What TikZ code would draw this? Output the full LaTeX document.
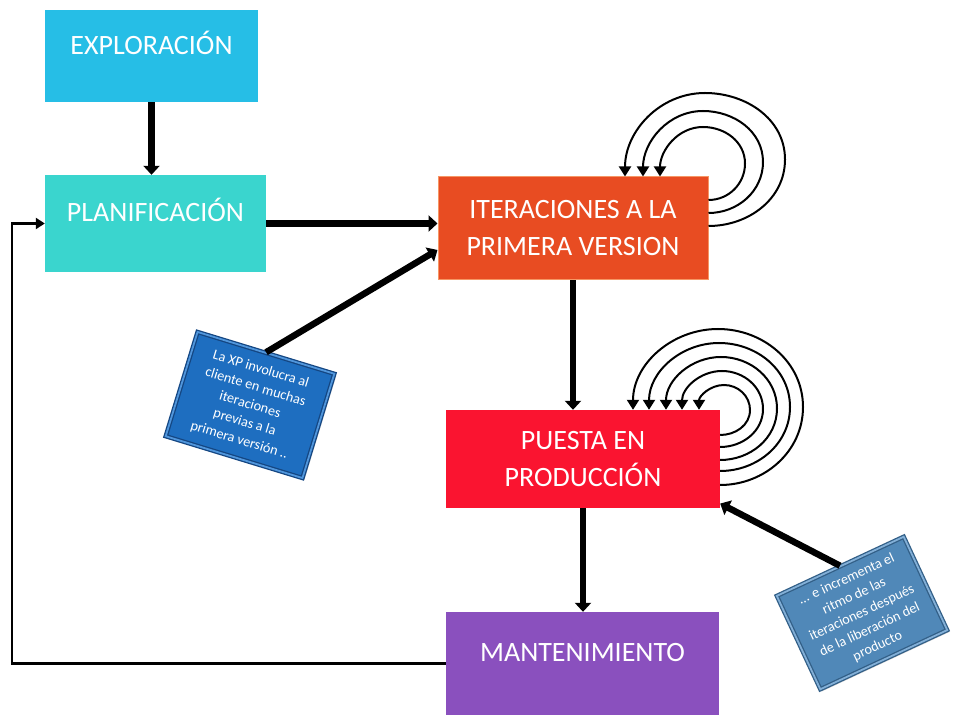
\documentclass[tikz,border=0pt]{standalone}
\usepackage{fontspec}
\setmainfont{Carlito}
\usetikzlibrary{positioning,arrows.meta,shadows,calc}
\definecolor{explcol}{RGB}{38,190,230}
\definecolor{plancol}{RGB}{58,213,206}
\definecolor{itercol}{RGB}{232,76,34}
\definecolor{iterline}{RGB}{246,150,100}
\definecolor{puestacol}{RGB}{250,20,48}
\definecolor{mantcol}{RGB}{138,80,190}
\definecolor{noteacol}{RGB}{30,110,192}
\definecolor{noteadark}{RGB}{20,70,130}
\definecolor{notealight}{RGB}{80,150,220}
\definecolor{notebcol}{RGB}{80,136,184}
\definecolor{notebdark}{RGB}{50,95,135}
\definecolor{noteblight}{RGB}{130,175,215}
\tikzstyle{phasebox} = [rectangle, text=white, font=\fontsize{28}{37}\selectfont, align=center, inner sep=0pt]
\tikzstyle{oneline} = [text height=19pt, text depth=22pt]
\tikzstyle{notebox} = [rectangle, text=white, align=center, font=\fontsize{14.2}{18.5}\selectfont, inner sep=1pt, line width=1.3pt, double distance=1.8pt, drop shadow={shadow xshift=2pt, shadow yshift=-2pt, opacity=0.35}]
\tikzstyle{arrow} = [line width=6.5pt, -{Triangle[length=9pt,width=16pt]}]
\tikzstyle{thinarrow} = [line width=2.4pt, -{Triangle[length=9pt,width=11pt]}]
\tikzstyle{looparrow} = [line width=2pt, -{Triangle[length=10pt,width=12pt]}]
\begin{document}
\begin{tikzpicture}[x=1pt,y=1pt]
			\useasboundingbox (0,0) rectangle (953,715);
			\node (expl) [phasebox, oneline, fill=explcol, minimum width=213pt, minimum height=92pt] at (151.5,659) {EXPLORACIÓN};
			\node (plan) [phasebox, oneline, fill=plancol, minimum width=221pt, minimum height=97pt] at (155.5,491.5) {PLANIFICACIÓN};
			\node (iter) [phasebox, fill=itercol, draw=iterline, line width=1pt, minimum width=270pt, minimum height=103pt] at (573,486.5) {ITERACIONES A LA\\PRIMERA VERSION};
			\node (puesta) [phasebox, fill=puestacol, minimum width=274pt, minimum height=98pt] at (583,256) {PUESTA EN\\PRODUCCIÓN};
			\node (mant) [phasebox, oneline, fill=mantcol, minimum width=273pt, minimum height=103pt] at (582.5,51.5) {MANTENIMIENTO};
			\node (note1) [notebox, fill=noteacol, draw=noteadark, double=notealight, rotate=-17, minimum width=143pt, minimum height=109pt] at (250,310) {La XP involucra al\\cliente en muchas\\iteraciones\\previas a la\\primera versión ..};
			\node (note2) [notebox, fill=notebcol, draw=notebdark, double=noteblight, rotate=25, minimum width=140pt, minimum height=103pt] at (862,102) {... e incrementa el\\ritmo de las\\iteraciones después\\de la liberación del\\producto};
			\coordinate (leftrail) at (12,0);
			\draw [arrow] (expl.south) -- (expl.south |- plan.north);
			\draw [arrow] (plan.east) -- (plan.east -| iter.west);
			\draw [arrow] (iter.south) -- (iter.south |- puesta.north);
			\draw [arrow] (puesta.south) -- (puesta.south |- mant.north);
			\draw [arrow] (note1.north) -- (iter.189);
			\draw [arrow] (note2.north) -- (puesta.-18);
			\draw [thinarrow] (mant.west) -- (mant.west -| leftrail) |- (plan.west);
			% repeated iterations
			\draw [looparrow] ($(iter.east)+(0,2.5)$) to[out=0,in=-90] (785,555.5) to[out=90,in=0] (705,622) to[out=180,in=90] ($(iter.north)+(52,0)$);
			\draw [looparrow] ($(iter.east)+(0,15.5)$) to[out=0,in=-90] (763,553) to[out=90,in=0] (703,604) to[out=180,in=90] ($(iter.north)+(70,0)$);
			\draw [looparrow] ($(iter.east)+(0,28.5)$) to[out=0,in=-90] (745,551.5) to[out=90,in=0] (703,588) to[out=180,in=90] ($(iter.north)+(87,0)$);
			\draw [looparrow] ($(puesta.east)+(0,-26)$) to[out=0,in=-90] (803,308) to[out=90,in=0] (718,386) to[out=180,in=90] ($(puesta.north)+(50,0)$);
			\draw [looparrow] ($(puesta.east)+(0,-12)$) to[out=0,in=-90] (790,308) to[out=90,in=0] (719,372) to[out=180,in=90] ($(puesta.north)+(66,0)$);
			\draw [looparrow] ($(puesta.east)+(0,-1)$) to[out=0,in=-90] (777,306.5) to[out=90,in=0] (721,358) to[out=180,in=90] ($(puesta.north)+(83,0)$);
			\draw [looparrow] ($(puesta.east)+(0,12)$) to[out=0,in=-90] (763,306) to[out=90,in=0] (722,344) to[out=180,in=90] ($(puesta.north)+(99,0)$);
			\draw [looparrow] ($(puesta.east)+(0,24)$) to[out=0,in=-90] (750,305) to[out=90,in=0] (724,330) to[out=180,in=90] ($(puesta.north)+(116,0)$);
		\end{tikzpicture}
\end{document}
